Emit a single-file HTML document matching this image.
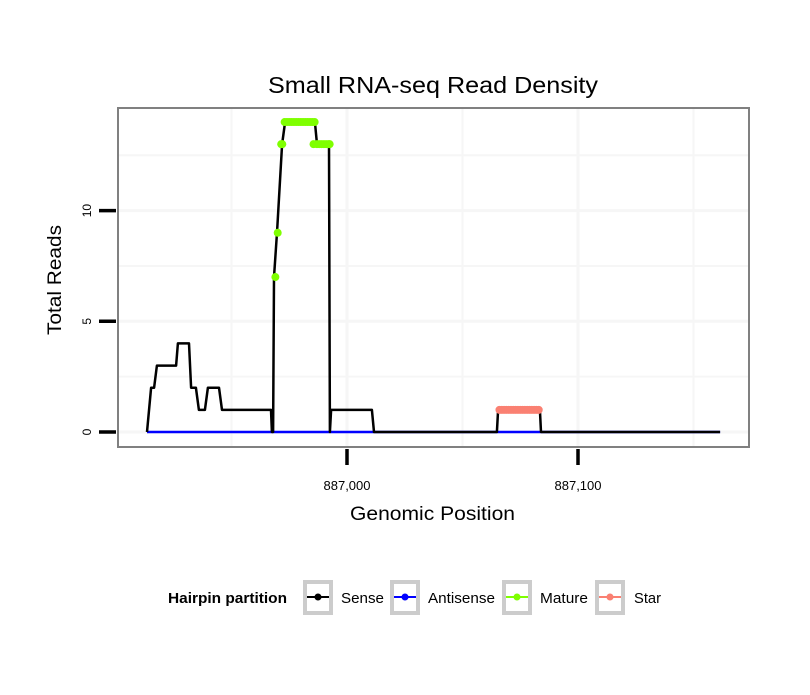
<!DOCTYPE html>
<html><head><meta charset="utf-8"><style>
body{margin:0;background:#fff;}
svg text{font-family:"Liberation Sans",sans-serif;}
</style></head><body>
<svg id="chart" width="810" height="690" xmlns="http://www.w3.org/2000/svg">
<rect width="810" height="690" fill="#fff"/>
<text x="268" y="93" font-size="23" textLength="330" lengthAdjust="spacingAndGlyphs">Small RNA-seq Read Density</text>
<g id="grid"></g>
<g id="series"></g>
<rect x="118" y="108" width="631" height="339" fill="none" stroke="#808080" stroke-width="2"/>
<g id="axes"></g>
<text x="350" y="520" font-size="19" textLength="165" lengthAdjust="spacingAndGlyphs">Genomic Position</text>
<text transform="translate(61,335) rotate(-90)" font-size="19" textLength="110" lengthAdjust="spacingAndGlyphs">Total Reads</text>
<g>
<text x="168" y="603" font-size="15" font-weight="bold" textLength="119" lengthAdjust="spacingAndGlyphs">Hairpin partition</text>
<g><rect x="305" y="582" width="26" height="31" fill="#fff" stroke="#ccc" stroke-width="4"/><line x1="307" y1="597" x2="329" y2="597" stroke="#000" stroke-width="2"/><circle cx="318" cy="597" r="3.5" fill="#000"/><text x="341" y="603" font-size="15" textLength="43" lengthAdjust="spacingAndGlyphs">Sense</text></g>
<g><rect x="392" y="582" width="26" height="31" fill="#fff" stroke="#ccc" stroke-width="4"/><line x1="394" y1="597" x2="416" y2="597" stroke="#00f" stroke-width="2"/><circle cx="405" cy="597" r="3.5" fill="#00f"/><text x="428" y="603" font-size="15" textLength="67" lengthAdjust="spacingAndGlyphs">Antisense</text></g>
<g><rect x="504" y="582" width="26" height="31" fill="#fff" stroke="#ccc" stroke-width="4"/><line x1="506" y1="597" x2="528" y2="597" stroke="#7fff00" stroke-width="2"/><circle cx="517" cy="597" r="3.5" fill="#7fff00"/><text x="540" y="603" font-size="15" textLength="48" lengthAdjust="spacingAndGlyphs">Mature</text></g>
<g><rect x="597" y="582" width="26" height="31" fill="#fff" stroke="#ccc" stroke-width="4"/><line x1="599" y1="597" x2="621" y2="597" stroke="#fa8072" stroke-width="2"/><circle cx="610" cy="597" r="3.5" fill="#fa8072"/><text x="634" y="603" font-size="15" textLength="27" lengthAdjust="spacingAndGlyphs">Star</text></g>
</g>
</svg>
<script>
const BASE = 887000;
const sensePos = [-86.6,-84.8,-83.5,-82.3,-74.0,-73.2,-68.4,-67.5,-65.4,-64.1,-61.5,-60.2,-55.4,-54.1,-32.9,-32.5,-32.0,-31.6,-30.3,-28.1,-26.8,-13.9,-13.0,-7.8,-7.4,-6.9,10.8,11.7,64.9,65.4,83.5,84.0,161.5];
const senseVal = [0,2,2,3,3,4,4,2,2,1,1,2,2,1,1,0,0,7,9,13,14,14,13,13,0,1,1,0,0,1,1,0,0];
const antiPos = [-86.6,161.5];
const antiVal = [0,0];
const maturePos = [-31,-30,-28.5,-28,-27,-26,-25,-24,-23,-22,-21,-20,-19,-18,-17,-16,-15,-14,-14.5,-13,-12,-11,-10,-9,-8,-7.5];
const matureVal = [7,9,13,13,14,14,14,14,14,14,14,14,14,14,14,14,14,14,13,13,13,13,13,13,13,13];
const starPos = [66,67,68,69,70,71,72,73,74,75,76,77,78,79,80,81,82,83];
const starVal = [1,1,1,1,1,1,1,1,1,1,1,1,1,1,1,1,1,1];
const xTicks = [0,100];
const xTickLabels = ["887,000","887,100"];
const yTicks = [0,5,10];
const yTickLabels = ["0","5","10"];
const yMinor = [2.5,7.5,12.5];
const xMinor = [-50,50,150];

const X = p => 347 + p*2.31;
const Y = v => 432 - v*22.14;
const NS = "http://www.w3.org/2000/svg";
function mk(tag, attrs, parent){const e=document.createElementNS(NS,tag);for(const k in attrs)e.setAttribute(k,attrs[k]);parent.appendChild(e);return e;}
const grid=document.getElementById('grid'), series=document.getElementById('series'), axes=document.getElementById('axes');

yTicks.concat(yMinor).forEach(v=>{const l=mk('line',{x1:119,x2:748,y1:Y(v),y2:Y(v),stroke:'#f6f6f6','stroke-width':yMinor.includes(v)?2:3},grid);

});
xTicks.concat(xMinor).forEach(p=>{const l=mk('line',{x1:X(p),x2:X(p),y1:109,y2:446,stroke:'#f6f6f6','stroke-width':xMinor.includes(p)?2:3},grid);

});

function path(pos,val,color,w,name){const d=pos.map((p,i)=>(i?'L':'M')+X(p).toFixed(1)+','+Y(val[i]).toFixed(1)).join(' ');
const e=mk('path',{d:d,fill:'none',stroke:color,'stroke-width':w,'stroke-linejoin':'round'},series);

}
path(antiPos,antiVal,'#00f',2.5,'antisense-line');
path(sensePos,senseVal,'#000',2.5,'sense-line');
maturePos.forEach((p,i)=>{const c=mk('circle',{cx:X(p),cy:Y(matureVal[i]),r:4,fill:'#7fff00'},series);

});
starPos.forEach((p,i)=>{const c=mk('circle',{cx:X(p),cy:Y(starVal[i]),r:4,fill:'#fa8072'},series);

});

yTicks.forEach((v,i)=>{const t=mk('line',{x1:99,x2:116,y1:Y(v),y2:Y(v),stroke:'#000','stroke-width':3.5},axes);


const tx=mk('text',{transform:`translate(91,${Y(v)}) rotate(-90)`,'font-size':12,'text-anchor':'middle'},axes);tx.textContent=yTickLabels[i];

});
xTicks.forEach((p,i)=>{const t=mk('line',{x1:X(p),x2:X(p),y1:449,y2:465,stroke:'#000','stroke-width':3.5},axes);


const tx=mk('text',{x:X(p),y:490,'font-size':13,'text-anchor':'middle'},axes);tx.textContent=xTickLabels[i];

});
</script>
</body></html>
